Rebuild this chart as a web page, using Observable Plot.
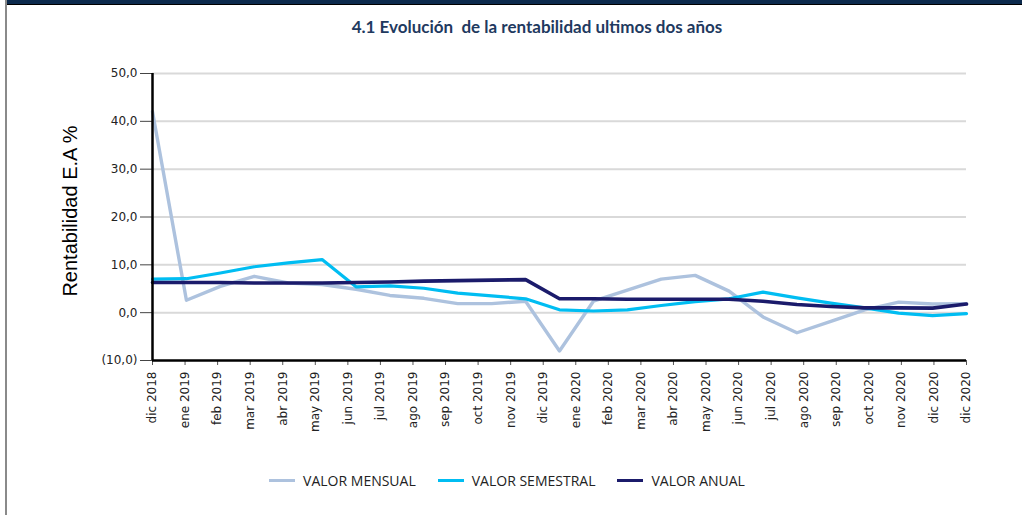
<!DOCTYPE html>
<html>
<head>
<meta charset="utf-8">
<script src="https://cdn.jsdelivr.net/npm/d3@7"></script>
<script src="https://cdn.jsdelivr.net/npm/@observablehq/plot@0.6"></script>
<style>
  html, body { margin: 0; padding: 0; background: #fff; }
  #wrap { position: relative; width: 1022px; height: 515px; overflow: hidden; background: #fff; }
  #topbar { position: absolute; left: 6px; right: 0; top: 0; height: 4px; background: #0c2a4d; border-bottom: 1px solid #000; }
  #leftline { position: absolute; left: 5px; top: 0; width: 2px; height: 515px; background: #8a8a8a; }
  #title { position: absolute; left: 0; width: 1074px; top: 16px; text-align: center;
           font-family: Lato, "Open Sans", sans-serif; font-weight: bold; font-size: 17px; color: #1f3a5f; }
  #chart { position: absolute; left: 0; top: 50px; }
  #legend { position: absolute; left: 0; width: 1014px; top: 471px; display: flex; justify-content: center; gap: 22px;
            font-family: "Open Sans", sans-serif; font-size: 14px; color: #222; }
  .item { display: flex; align-items: center; gap: 8px; }
  .sw { width: 26px; height: 3px; }
</style>
</head>
<body>
<div id="wrap">
  <div id="topbar"></div>
  <div id="leftline"></div>
  <div id="title">4.1 Evolución&nbsp; de la rentabilidad ultimos dos años</div>
  <div id="chart"></div>
  <div id="legend"></div>
</div>
<script>
// Axis labels (26 category labels as shown)
const xLabels = ["dic 2018","ene 2019","feb 2019","mar 2019","abr 2019","may 2019","jun 2019","jul 2019","ago 2019","sep 2019","oct 2019","nov 2019","dic 2019",
  "ene 2020","feb 2020","mar 2020","abr 2020","may 2020","jun 2020","jul 2020","ago 2020","sep 2020","oct 2020","nov 2020","dic 2020","dic 2020"];
const yTicks = [-10, 0, 10, 20, 30, 40, 50];
const seriesNames = ["VALOR MENSUAL", "VALOR SEMESTRAL", "VALOR ANUAL"];
const seriesColors = ["#adc2de", "#00bdf2", "#1b1b6b"];
// 25 monthly observations (dic 2018 .. dic 2020)
const mensual   = [42.0, 2.6, 5.5, 7.6, 6.2, 5.9, 4.9, 3.6, 3.0, 1.9, 1.9, 2.4, -8.0, 2.4, 4.7, 7.0, 7.8, 4.5, -0.9, -4.2, -1.8, 0.6, 2.2, 1.8, 1.9];
const semestral = [7.0, 7.1, 8.3, 9.6, 10.4, 11.1, 5.4, 5.6, 5.1, 4.1, 3.5, 2.9, 0.6, 0.35, 0.6, 1.5, 2.3, 2.9, 4.3, 3.1, 2.0, 1.0, -0.1, -0.6, -0.2];
const anual     = [6.3, 6.3, 6.3, 6.2, 6.2, 6.2, 6.3, 6.4, 6.6, 6.7, 6.8, 6.9, 2.9, 2.9, 2.8, 2.8, 2.8, 2.8, 2.4, 1.7, 1.3, 1.0, 1.0, 0.95, 1.8];

const allSeries = [mensual, semestral, anual];
const n = mensual.length;
const span = xLabels.length - 1;
const rows = [];
allSeries.forEach((arr, s) => arr.forEach((v, i) => rows.push({serie: seriesNames[s], pos: i * span / (n - 1), v})));

const fmt = d => d < 0 ? `(${Math.abs(d)},0)` : `${d},0`;

const chart = Plot.plot({
  width: 1022,
  height: 400,
  marginTop: 23,
  marginBottom: 90,
  marginLeft: 152,
  marginRight: 56,
  style: {fontFamily: "'DejaVu Sans', sans-serif", fontSize: "12px", color: "#222", background: "transparent"},
  x: {domain: [0, span]},
  y: {domain: [-10, 50]},
  color: {domain: seriesNames, range: seriesColors},
  marks: [
    Plot.gridY(yTicks.filter(d => d > -10), {stroke: "#d9d9d9", strokeOpacity: 1, strokeWidth: 2}),
    Plot.axisY({ticks: yTicks, tickFormat: fmt, tickSize: 12, tickPadding: 3, stroke: "#444", label: null, fontSize: 12}),
    Plot.axisX({ticks: d3.range(xLabels.length), tickFormat: i => xLabels[i], tickRotate: -90, tickSize: 5, tickPadding: 6, stroke: "#555", label: null, fontSize: 12}),
    Plot.line(rows.filter(r => r.serie === "VALOR MENSUAL"), {x: "pos", y: "v", stroke: "serie", strokeWidth: 3.4}),
    Plot.line(rows.filter(r => r.serie === "VALOR SEMESTRAL"), {x: "pos", y: "v", stroke: "serie", strokeWidth: 3.2}),
    Plot.line(rows.filter(r => r.serie === "VALOR ANUAL"), {x: "pos", y: "v", stroke: "serie", strokeWidth: 3.6}),
    Plot.ruleX([0], {stroke: "#000", strokeWidth: 2.5}),
    Plot.ruleY([-10], {stroke: "#000", strokeWidth: 2.5}),
    Plot.text(["Rentabilidad E.A %"], {frameAnchor: "left", textAnchor: "middle", dx: -82, dy: -6, rotate: -90, fontSize: 20, fontFamily: "'Liberation Sans', Arial, sans-serif", fill: "#000"})
  ]
});
document.getElementById("chart").appendChild(chart);

const legend = document.getElementById("legend");
seriesNames.forEach((name, i) => {
  const it = document.createElement("div");
  it.className = "item";
  const sw = document.createElement("div");
  sw.className = "sw";
  sw.style.background = seriesColors[i];
  const t = document.createElement("span");
  t.textContent = name;
  it.appendChild(sw); it.appendChild(t);
  legend.appendChild(it);
});
</script>
</body>
</html>
